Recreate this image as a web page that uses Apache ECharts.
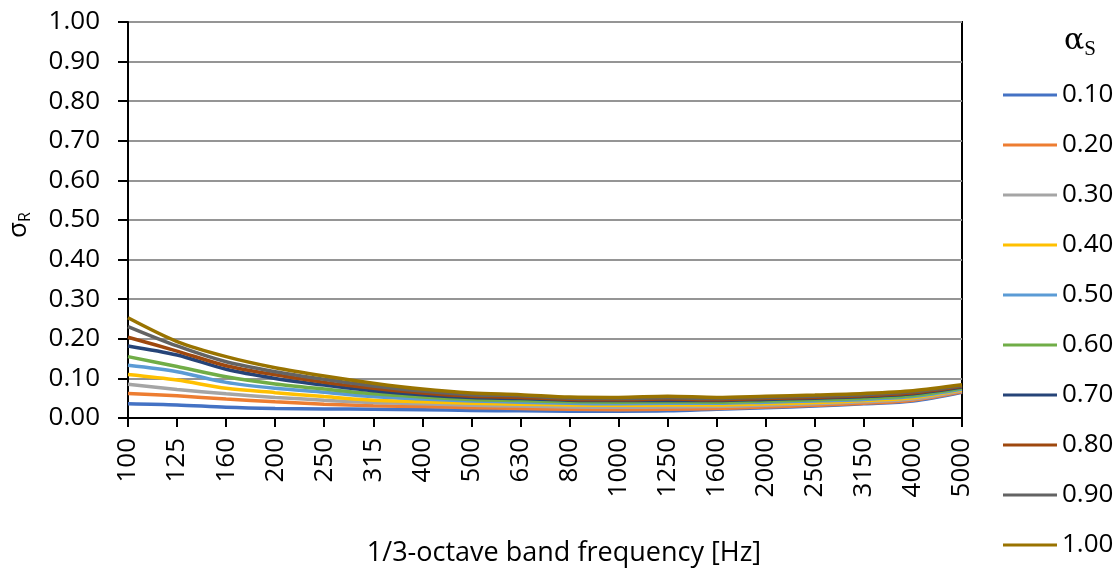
<!DOCTYPE html>
<html>
<head>
<meta charset="utf-8">
<script src="https://cdn.jsdelivr.net/npm/echarts@6/dist/echarts.min.js"></script>
<style>html,body{margin:0;padding:0;background:#fff}#c{width:1118px;height:576px}</style>
</head>
<body>
<div id="c"></div>
<script>
const categories = ['100','125','160','200','250','315','400','500','630','800','1000','1250','1600','2000','2500','3150','4000','5000'];
const seriesNames = ['0.10','0.20','0.30','0.40','0.50','0.60','0.70','0.80','0.90','1.00'];
const colors = ['#4472C4','#ED7D31','#A5A5A5','#FFC000','#5B9BD5','#70AD47','#264478','#9E480E','#636363','#997300'];
const yTicks = [0, 0.1, 0.2, 0.3, 0.4, 0.5, 0.6, 0.7, 0.8, 0.9, 1.0];

const s010 = [0.036,0.033,0.027,0.024,0.023,0.022,0.021,0.019,0.018,0.017,0.017,0.018,0.022,0.026,0.030,0.036,0.043,0.065];
const s020 = [0.062,0.056,0.048,0.041,0.035,0.031,0.029,0.026,0.024,0.022,0.021,0.022,0.024,0.028,0.032,0.037,0.045,0.066];
const s030 = [0.085,0.072,0.061,0.052,0.045,0.039,0.036,0.032,0.030,0.028,0.027,0.028,0.029,0.032,0.036,0.041,0.048,0.069];
const s040 = [0.110,0.096,0.075,0.064,0.054,0.045,0.041,0.037,0.035,0.033,0.032,0.033,0.033,0.036,0.039,0.044,0.051,0.071];
const s050 = [0.133,0.117,0.090,0.075,0.065,0.054,0.048,0.043,0.040,0.037,0.036,0.037,0.037,0.040,0.043,0.047,0.054,0.073];
const s060 = [0.155,0.130,0.104,0.086,0.073,0.061,0.053,0.047,0.044,0.041,0.040,0.041,0.040,0.043,0.046,0.050,0.057,0.076];
const s070 = [0.182,0.159,0.123,0.100,0.083,0.069,0.059,0.052,0.049,0.045,0.044,0.045,0.044,0.047,0.050,0.054,0.061,0.078];
const s080 = [0.204,0.169,0.132,0.109,0.090,0.075,0.063,0.055,0.052,0.047,0.046,0.048,0.046,0.049,0.052,0.056,0.063,0.080];
const s090 = [0.231,0.182,0.142,0.117,0.098,0.081,0.068,0.059,0.056,0.050,0.049,0.051,0.049,0.052,0.055,0.059,0.066,0.082];
const s100 = [0.253,0.193,0.155,0.127,0.106,0.088,0.073,0.063,0.059,0.053,0.052,0.055,0.052,0.055,0.058,0.062,0.069,0.084];
const allSeries = [s010,s020,s030,s040,s050,s060,s070,s080,s090,s100];

const FONT = 'Open Sans';
const chart = echarts.init(document.getElementById('c'), null, {renderer: 'canvas'});
chart.setOption({
  animation: false,
  backgroundColor: '#ffffff',
  grid: {left: 128, right: 156, top: 22, bottom: 158, show: true, borderColor: '#000', borderWidth: 2, containLabel: false},
  xAxis: {
    type: 'category',
    data: categories,
    boundaryGap: false,
    axisLine: {show: true, lineStyle: {color: '#000', width: 2}},
    axisTick: {show: true, length: 9, alignWithLabel: true, lineStyle: {color: '#000', width: 2}},
    axisLabel: {rotate: 90, margin: 20, fontFamily: FONT, fontSize: 26, color: '#000', interval: 0},
    splitLine: {show: false},
    name: '1/3-octave band frequency [Hz]',
    nameLocation: 'middle',
    nameGap: 122,
    nameTextStyle: {fontFamily: FONT, fontSize: 27, color: '#000', padding: [0, 0, 0, 38]}
  },
  yAxis: {
    type: 'value',
    min: yTicks[0],
    max: yTicks[yTicks.length - 1],
    interval: 0.1,
    axisLine: {show: true, lineStyle: {color: '#000', width: 2}},
    axisTick: {show: true, length: 10, lineStyle: {color: '#000', width: 2}},
    axisLabel: {margin: 28, fontFamily: FONT, fontSize: 26, color: '#000', formatter: v => v.toFixed(2)},
    splitLine: {show: true, lineStyle: {color: '#959595', width: 2}}
  },
  legend: {
    orient: 'vertical',
    left: 1003,
    top: 81,
    padding: 0,
    icon: 'rect',
    itemWidth: 54,
    itemHeight: 3,
    itemGap: 22,
    textStyle: {fontFamily: FONT, fontSize: 26, color: '#000', lineHeight: 28},
    data: seriesNames
  },
  graphic: [
    {
      type: 'text',
      left: 1064,
      top: 26,
      style: {
        text: '{a|α}{s|S}',
        rich: {
          a: {fontFamily: 'DejaVu Serif', fontSize: 30, fill: '#000'},
          s: {fontFamily: 'Liberation Serif', fontSize: 21, fill: '#000', padding: [16, 0, 0, 0]}
        }
      }
    },
    {
      type: 'text',
      x: 19,
      y: 225,
      rotation: Math.PI / 2,
      style: {
        text: '{a|σ}{s|R}',
        align: 'center',
        verticalAlign: 'middle',
        rich: {
          a: {fontFamily: FONT, fontSize: 26, fill: '#000'},
          s: {fontFamily: FONT, fontSize: 16, fill: '#000', padding: [12, 0, 0, 0]}
        }
      }
    }
  ],
  series: allSeries.map((d, i) => ({
    name: seriesNames[i],
    type: 'line',
    data: d,
    smooth: 0.3,
    symbol: 'none',
    lineStyle: {color: colors[i], width: 3.5},
    itemStyle: {color: colors[i]}
  }))
});
</script>
</body>
</html>
